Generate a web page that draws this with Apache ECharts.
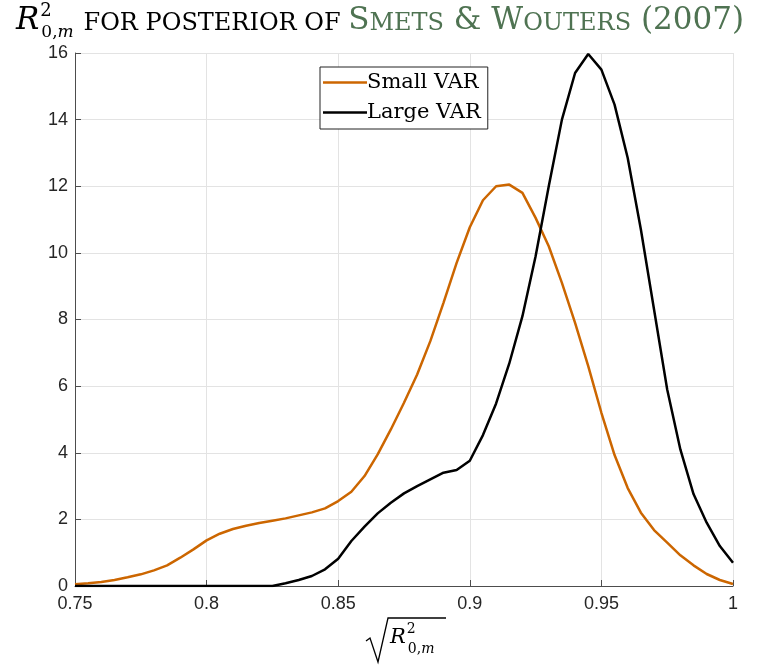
<!DOCTYPE html>
<html><head><meta charset="utf-8">
<script src="https://cdn.jsdelivr.net/npm/echarts@6/dist/echarts.min.js"></script>
<style>html,body{margin:0;padding:0;background:#fff}#c{width:773px;height:666px}</style>
</head><body><div id="c"></div>
<script>
const xValues = [0.75,0.755,0.76,0.765,0.77,0.775,0.78,0.785,0.79,0.795,
 0.80,0.805,0.81,0.815,0.82,0.825,0.83,0.835,0.84,0.845,
 0.85,0.855,0.86,0.865,0.87,0.875,0.88,0.885,0.89,0.895,
 0.90,0.905,0.91,0.915,0.92,0.925,0.93,0.935,0.94,0.945,
 0.95,0.955,0.96,0.965,0.97,0.975,0.98,0.985,0.99,0.995,1.0];
const smallVAR = [0.05,0.08,0.12,0.18,0.26,0.35,0.47,0.62,0.85,1.1,
 1.37,1.57,1.71,1.81,1.89,1.96,2.03,2.12,2.21,2.33,
 2.55,2.83,3.3,3.95,4.7,5.5,6.35,7.35,8.5,9.7,
 10.77,11.58,12.0,12.05,11.8,11.05,10.2,9.1,7.9,6.6,
 5.2,3.93,2.94,2.2,1.68,1.3,0.92,0.62,0.36,0.18,0.06];
const largeVAR = [0,0,0,0,0,0,0,0,0,0,
 0,0,0,0,0,0,0.08,0.18,0.3,0.5,
 0.82,1.35,1.78,2.18,2.5,2.78,3.0,3.2,3.4,3.48,
 3.76,4.53,5.48,6.68,8.1,9.9,12.0,14.0,15.4,15.97,
 15.5,14.45,12.85,10.7,8.3,5.9,4.1,2.76,1.9,1.2,0.7];
const seriesNames = ['Small VAR','Large VAR'];
const xTicks = {min:0.75, max:1, interval:0.05};
const yTicks = {min:0, max:16, interval:2};

const chart = echarts.init(document.getElementById('c'), null, {renderer:'canvas'});
const serif = 'DejaVu Serif';
const green = '#4f7352';
const big = 31, small = 24, lh = 44;
chart.setOption({
  animation:false,
  backgroundColor:'#fff',
  title:{
    left:11, top:-6,
    text:'{R|R}{sup|2}{sub0|0,}{subm|m}{sp| }{sc|FOR POSTERIOR OF }{gB|S}{gs|METS}{g| & }{gB|W}{gs|OUTERS}{g| (2007)}',
    textStyle:{
      fontWeight:'normal',
      rich:{
        R:{fontFamily:serif,fontStyle:'italic',fontWeight:'normal',fontSize:big,color:'#000',lineHeight:lh,verticalAlign:'middle'},
        sup:{fontFamily:serif,fontWeight:'normal',fontSize:18,color:'#000',lineHeight:lh,verticalAlign:'top',width:1,padding:[3,0,0,1]},
        sub0:{fontFamily:serif,fontWeight:'normal',fontSize:17,color:'#000',lineHeight:lh,verticalAlign:'bottom',padding:[0,0,2,0]},
        subm:{fontFamily:serif,fontStyle:'italic',fontWeight:'normal',fontSize:17,color:'#000',lineHeight:lh,verticalAlign:'bottom',padding:[0,0,2,0]},
        sp:{fontFamily:serif,fontWeight:'normal',fontSize:big,lineHeight:lh,verticalAlign:'middle'},
        sc:{fontFamily:serif,fontWeight:'normal',fontSize:small,color:'#000',lineHeight:lh,verticalAlign:'middle',padding:[6,0,0,0]},
        gB:{fontFamily:serif,fontWeight:'normal',fontSize:big,color:green,lineHeight:lh,verticalAlign:'middle'},
        gs:{fontFamily:serif,fontWeight:'normal',fontSize:small,color:green,lineHeight:lh,verticalAlign:'middle',padding:[6,0,0,0]},
        g:{fontFamily:serif,fontWeight:'normal',fontSize:big,color:green,lineHeight:lh,verticalAlign:'middle'}
      }
    }
  },
  grid:{left:75,right:40,top:53,bottom:80},
  legend:{
    data:seriesNames, orient:'vertical', left:320, top:67,
    backgroundColor:'#fff', borderColor:'#222', borderWidth:1, borderRadius:0,
    padding:[5,7,6,3], itemGap:9, itemWidth:44, itemHeight:2.5, icon:'rect',
    textStyle:{fontFamily:serif,fontSize:21,color:'#000',padding:[0,0,0,-5]}
  },
  xAxis:{
    type:'value', min:xTicks.min, max:xTicks.max, interval:xTicks.interval,
    axisLine:{show:true,onZero:false,lineStyle:{color:'#4d4d4d',width:1}},
    axisTick:{show:true,inside:true,length:6,lineStyle:{color:'#4d4d4d'}},
    axisLabel:{fontFamily:'Liberation Sans',fontSize:18,color:'#262626',margin:9,
      formatter:v=>String(Math.round(v*100)/100)},
    splitLine:{show:true,lineStyle:{color:'#e3e3e3',width:1}}
  },
  yAxis:{
    type:'value', min:yTicks.min, max:yTicks.max, interval:yTicks.interval,
    axisLine:{show:true,lineStyle:{color:'#4d4d4d',width:1}},
    axisTick:{show:true,inside:true,length:6,lineStyle:{color:'#4d4d4d'}},
    axisLabel:{fontFamily:'Liberation Sans',fontSize:18,color:'#262626',margin:7},
    splitLine:{show:true,lineStyle:{color:'#e3e3e3',width:1}}
  },
  series:[
    {name:seriesNames[0],type:'line',symbol:'none',data:xValues.map((x,i)=>[x,smallVAR[i]]),
     lineStyle:{color:'#cc6600',width:2.5},itemStyle:{color:'#cc6600'},z:3},
    {name:seriesNames[1],type:'line',symbol:'none',data:xValues.map((x,i)=>[x,largeVAR[i]]),
     lineStyle:{color:'#000',width:2.5},itemStyle:{color:'#000'},z:4}
  ],
  graphic:[
    {type:'polyline',shape:{points:[[366,641],[370,638],[378,662],[388,618],[446,618]]},
     style:{stroke:'#000',lineWidth:1.3,fill:null}},
    {type:'text',left:390,top:620,style:{
      text:'{R|R}{sup|2}{sub0|0,}{subm|m}',
      rich:{
        R:{fontFamily:serif,fontStyle:'italic',fontSize:21,color:'#000',lineHeight:36,verticalAlign:'middle'},
        sup:{fontFamily:serif,fontSize:14,color:'#000',lineHeight:36,verticalAlign:'top',width:1,padding:[2,0,0,1]},
        sub0:{fontFamily:serif,fontSize:14,color:'#000',lineHeight:36,verticalAlign:'bottom'},
        subm:{fontFamily:serif,fontStyle:'italic',fontSize:14,color:'#000',lineHeight:36,verticalAlign:'bottom'}
      }}}
  ]
});
</script></body></html>
